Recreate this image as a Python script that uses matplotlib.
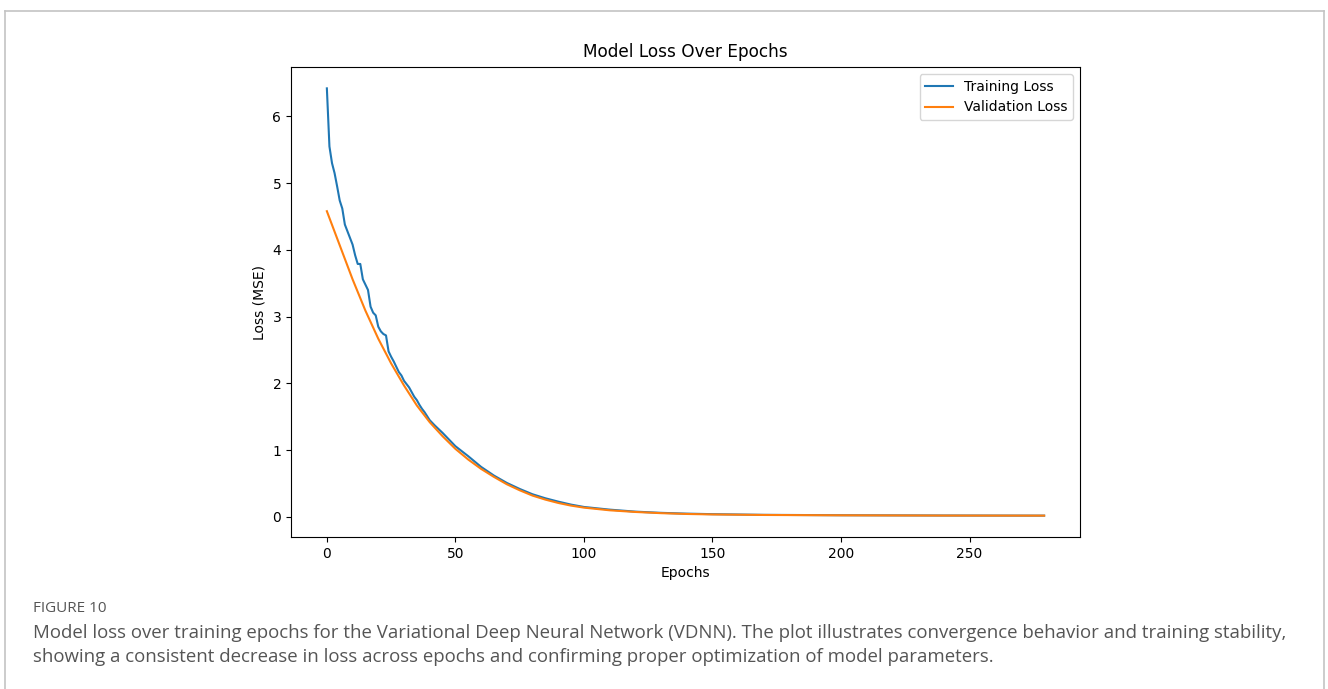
import matplotlib
matplotlib.use('Agg')
import matplotlib.pyplot as plt
from matplotlib.lines import Line2D

# 训练损失（按epoch读取）
train_epochs = [0, 1, 2, 3, 4, 5, 6, 7, 8, 9, 10, 11, 12, 13, 14, 15, 16, 17, 18, 19,
                20, 21, 22, 23, 24, 25, 26, 27, 28, 29, 30, 31, 32, 33, 34, 35, 36, 37, 38, 39,
                40, 42, 45, 48, 50, 53, 55, 60, 65, 70, 75, 80, 85, 90, 95, 100,
                110, 120, 130, 140, 150, 170, 200, 240, 279]
train_loss = [6.42, 5.55, 5.30, 5.15, 4.95, 4.74, 4.62, 4.38, 4.28, 4.18,
              4.08, 3.92, 3.79, 3.79, 3.56, 3.48, 3.40, 3.15, 3.06, 3.02,
              2.85, 2.78, 2.74, 2.72, 2.48, 2.40, 2.33, 2.25, 2.17, 2.12,
              2.04, 1.99, 1.94, 1.87, 1.80, 1.75, 1.68, 1.62, 1.57, 1.51,
              1.45, 1.37, 1.26, 1.14, 1.06, 0.97, 0.91, 0.75, 0.62, 0.51,
              0.42, 0.34, 0.28, 0.23, 0.185, 0.15, 0.11, 0.08, 0.062, 0.05,
              0.042, 0.032, 0.026, 0.022, 0.02]

# 验证损失
val_epochs = [0, 5, 10, 15, 20, 25, 30, 35, 40, 45, 50, 55, 60, 65, 70, 75, 80, 85, 90, 95,
              100, 110, 120, 130, 140, 150, 170, 200, 240, 279]
val_loss = [4.58, 4.07, 3.56, 3.09, 2.67, 2.30, 1.97, 1.67, 1.42, 1.21,
            1.02, 0.86, 0.72, 0.60, 0.49, 0.40, 0.32, 0.26, 0.21, 0.17,
            0.14, 0.10, 0.075, 0.057, 0.045, 0.038, 0.03, 0.025, 0.021, 0.02]

caption_head = 'FIGURE 10'
caption_lines = [
    'Model loss over training epochs for the Variational Deep Neural Network (VDNN). The plot illustrates convergence behavior and training stability,',
    'showing a consistent decrease in loss across epochs and confirming proper optimization of model parameters.',
]

W, H = 1328, 689
fig = plt.figure(figsize=(W / 100, H / 100), dpi=100)

# 外框
border = '#c4c4c4'
fig.add_artist(Line2D([4.5 / W, 1323.5 / W], [1 - 11 / H, 1 - 11 / H], color=border, lw=1.2))
fig.add_artist(Line2D([4.5 / W, 4.5 / W], [0, 1 - 11 / H], color=border, lw=1.2))
fig.add_artist(Line2D([1323.5 / W, 1323.5 / W], [0, 1 - 11 / H], color=border, lw=1.2))

ax = fig.add_axes([291 / W, 1 - 537 / H, (1080 - 291) / W, (537 - 67) / H])
ax.plot(train_epochs, train_loss, color='#1f77b4', lw=1.5, label='Training Loss')
ax.plot(val_epochs, val_loss, color='#ff7f0e', lw=1.5, label='Validation Loss')
ax.set_title('Model Loss Over Epochs', fontsize=12.2, pad=7)
ax.set_xlabel('Epochs', fontsize=10)
ax.set_ylabel('Loss (MSE)', fontsize=10)
ax.tick_params(labelsize=10)
ax.legend(loc='upper right', fontsize=10)

# 图注
fig.text(33 / W, 1 - 608 / H, caption_head, fontsize=11, color='#555555',
         family='Open Sans', va='center')
for i, line in enumerate(caption_lines):
    fig.text(33 / W, 1 - (633 + 24 * i) / H, line, fontsize=13.4, color='#555555',
             family='Open Sans', va='center')

fig.savefig('out.png', dpi=100)
